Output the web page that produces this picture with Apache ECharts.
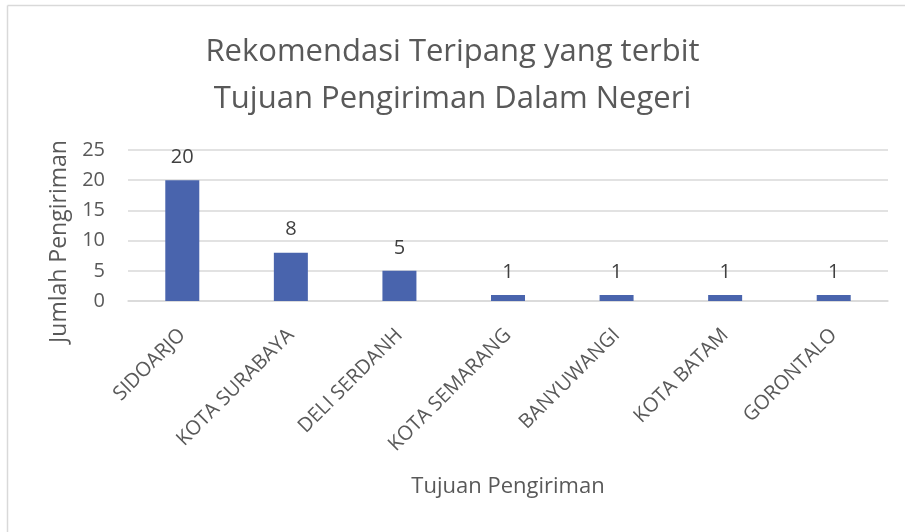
<!DOCTYPE html>
<html>
<head>
<meta charset="utf-8">
<script src="https://cdn.jsdelivr.net/npm/echarts@6/dist/echarts.min.js"></script>
<style>
  html, body { margin: 0; padding: 0; background: #fff; }
  #chart { width: 905px; height: 532px; }
</style>
</head>
<body>
<div id="chart"></div>
<script>
var categories = ['SIDOARJO', 'KOTA SURABAYA', 'DELI SERDANH', 'KOTA SEMARANG', 'BANYUWANGI', 'KOTA BATAM', 'GORONTALO'];
var jumlah = [20, 8, 5, 1, 1, 1, 1];
var yTicks = { min: 0, max: 25, interval: 5 };

var myChart = echarts.init(document.getElementById('chart'));

var font = '"Open Sans", "Noto Sans", sans-serif';

var option = {
    backgroundColor: '#fff',
    textStyle: { fontFamily: font },
    title: {
        text: 'Rekomendasi Teripang yang terbit\nTujuan Pengiriman Dalam Negeri',
        left: 'center',
        top: 24,
        textStyle: {
            fontFamily: font,
            fontSize: 31,
            fontWeight: 'normal',
            color: '#595959',
            lineHeight: 47
        }
    },
    graphic: [
        { type: 'line', shape: { x1: 7.5, y1: 5.5, x2: 905, y2: 5.5 }, style: { stroke: '#d9d9d9', lineWidth: 1.5 } },
        { type: 'line', shape: { x1: 7.5, y1: 5.5, x2: 7.5, y2: 532 }, style: { stroke: '#d9d9d9', lineWidth: 1.5 } }
    ],
    grid: {
        left: 128,
        right: 17,
        top: 150,
        bottom: 231,
        containLabel: false
    },
    xAxis: {
        type: 'category',
        data: categories,
        name: 'Tujuan Pengiriman',
        nameLocation: 'middle',
        nameGap: 175,
        nameTextStyle: { fontSize: 22, color: '#595959', fontFamily: font },
        axisLine: { lineStyle: { color: '#d9d9d9', width: 1.5 } },
        axisTick: { show: false },
        axisLabel: {
            rotate: 45,
            fontSize: 20,
            color: '#595959',
            margin: 31,
            interval: 0,
            fontFamily: font
        }
    },
    yAxis: {
        type: 'value',
        min: yTicks.min,
        max: yTicks.max,
        interval: yTicks.interval,
        name: 'Jumlah Pengiriman',
        nameLocation: 'middle',
        nameGap: 51,
        nameRotate: 90,
        nameTextStyle: { fontSize: 23, color: '#595959', fontFamily: font, padding: [0, 32, 0, 0] },
        axisLine: { show: false },
        axisTick: { show: false },
        axisLabel: { fontSize: 20, color: '#595959', margin: 23, fontFamily: font },
        splitLine: { lineStyle: { color: '#d9d9d9', width: 1.5 } }
    },
    series: [{
        type: 'bar',
        data: jumlah,
        barWidth: 34,
        itemStyle: { color: '#4964ad' },
        label: {
            show: true,
            position: 'top',
            distance: 13,
            fontSize: 20,
            color: '#404040',
            fontFamily: font
        }
    }]
};

myChart.setOption(option);
</script>
</body>
</html>
